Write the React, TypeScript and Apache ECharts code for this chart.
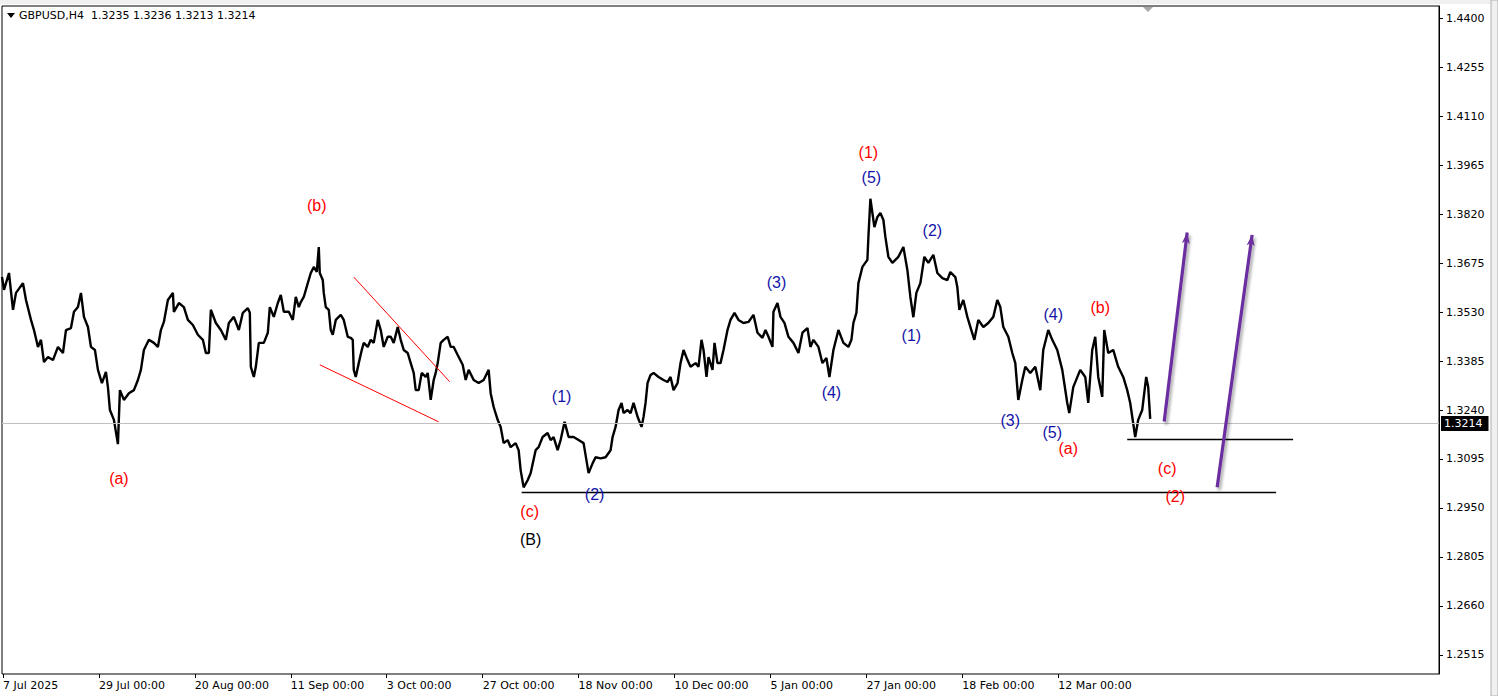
import React, { useEffect, useRef } from "react";
import * as echarts from "echarts";

// ---- price path (bar index, close) ----
const bars: number[] = [
  1, 3, 8, 12, 15, 22, 25, 30, 33, 37, 40, 43, 47, 52, 57, 62, 65, 70, 73, 77, 80, 83, 87, 90, 94, 97, 101, 105, 107, 109,
  113, 117, 119, 123, 128, 133, 137, 140, 143, 148, 153, 157, 160, 163, 167, 172, 173, 178, 183, 187, 192, 197, 202, 205, 208,
  210, 215, 220, 225, 228, 233, 238, 242, 247, 249, 250, 253, 255, 258, 263, 267, 269, 273, 277, 280, 283, 288, 292, 295,
  298, 300, 303, 307, 310, 313, 316, 318, 319, 322, 323, 325, 328, 330, 332, 335, 340, 343, 347, 350, 352, 353, 355, 358,
  361, 363, 367, 370, 373, 377, 380, 383, 387, 390, 393, 397, 400, 403, 407, 410, 413, 415, 418, 421, 425, 427, 430, 433,
  435, 437, 440, 443, 447, 450, 453, 457, 462, 465, 468, 473, 478, 483, 488, 490, 493, 497, 500, 503, 507, 510, 515, 518,
  520, 523, 527, 530, 535, 538, 542, 547, 550, 553, 557, 560, 564, 568, 573, 578, 583, 588, 592, 595, 600, 605, 610, 612,
  615, 618, 621, 623, 627, 630, 633, 637, 641, 643, 645, 647, 650, 653, 658, 663, 667, 670, 673, 677, 680, 683, 687, 690,
  695, 698, 701, 703, 706, 708, 712, 714, 717, 720, 723, 727, 730, 734, 738, 743, 748, 753, 757, 762, 765, 768, 772, 773,
  777, 780, 784, 788, 793, 798, 802, 807, 810, 813, 818, 822, 826, 829, 833, 838, 843, 848, 851, 853, 856, 858, 862, 867,
  868, 870, 874, 877, 880, 883, 885, 888, 892, 895, 898, 903, 907, 910, 913, 916, 920, 924, 928, 933, 937, 942, 947, 950,
  955, 957, 959, 963, 967, 971, 974, 978, 983, 988, 993, 997, 1000, 1003, 1008, 1012, 1015, 1018, 1022, 1025, 1030, 1035,
  1040, 1043, 1048, 1052, 1057, 1062, 1067, 1069, 1073, 1080, 1085, 1088, 1092, 1095, 1098, 1102, 1104, 1108, 1113, 1118,
  1123, 1127, 1130, 1135, 1138, 1142, 1146, 1148, 1150,
];

const closes: number[] = [
  1.3634, 1.3596, 1.3646, 1.3537, 1.3587, 1.3616, 1.3566, 1.3507, 1.3477, 1.3427, 1.3448, 1.3382, 1.3397, 1.3388, 1.3427,
  1.3409, 1.3477, 1.3483, 1.3531, 1.3545, 1.3587, 1.3516, 1.3486, 1.3427, 1.3418, 1.3359, 1.332, 1.3353, 1.3308, 1.324,
  1.3211, 1.3139, 1.3299, 1.327, 1.329, 1.3299, 1.3329, 1.3359, 1.3418, 1.3448, 1.3439, 1.3427, 1.3477, 1.3501, 1.3566,
  1.3587, 1.3531, 1.3557, 1.3545, 1.3507, 1.3492, 1.3463, 1.3448, 1.3409, 1.3409,
  1.3537, 1.3498, 1.3477, 1.3448, 1.3498, 1.3516, 1.3477, 1.3528, 1.3542, 1.3528, 1.3368, 1.3338, 1.3368, 1.3439, 1.3439,
  1.3469, 1.3545, 1.3516, 1.3557, 1.3581, 1.3531, 1.3531, 1.3507, 1.3575,
  1.3545, 1.356, 1.3575, 1.3616, 1.3646, 1.3664, 1.3649, 1.3723, 1.3646, 1.3625, 1.3587, 1.3545, 1.3537, 1.3477, 1.3463,
  1.3507, 1.3522, 1.3507, 1.3457, 1.3454, 1.3448, 1.3359, 1.3338, 1.3379,
  1.3418, 1.3439, 1.3427, 1.3448, 1.3439, 1.3507, 1.3477, 1.3427, 1.3457, 1.3457, 1.3439, 1.3486, 1.3448, 1.3418, 1.3409,
  1.3379, 1.335, 1.3299, 1.3299, 1.335, 1.3338, 1.335, 1.327, 1.3329,
  1.335, 1.3379, 1.3439, 1.3448, 1.3457, 1.3427, 1.3427, 1.3403, 1.3374, 1.3329, 1.3359, 1.3329, 1.332, 1.3329, 1.3359,
  1.329, 1.3249, 1.3211, 1.319, 1.3142, 1.3151, 1.313, 1.3142, 1.3121,
  1.3062, 1.3011, 1.3032, 1.3053, 1.3121, 1.313, 1.316, 1.3172, 1.3151, 1.316, 1.3121, 1.3151, 1.3205, 1.316, 1.316,
  1.3151, 1.3142, 1.3053, 1.3082, 1.31, 1.3097, 1.31, 1.3121, 1.316,
  1.319, 1.324, 1.3261, 1.3231, 1.324, 1.3231, 1.3261, 1.322, 1.319, 1.322, 1.3261, 1.332, 1.3344, 1.335, 1.3338, 1.3329,
  1.3323, 1.3338, 1.3299, 1.332, 1.3379, 1.3418, 1.3388, 1.3368,
  1.3379, 1.3368, 1.3448, 1.3418, 1.3338, 1.3397, 1.3359, 1.3439, 1.3379, 1.3379, 1.3418, 1.3477, 1.3507, 1.3528, 1.3507,
  1.3498, 1.3501, 1.3522, 1.3469, 1.3454, 1.3477, 1.3457, 1.3427, 1.3531,
  1.3557, 1.3516, 1.3498, 1.3457, 1.3439, 1.3409, 1.3469, 1.3483, 1.3427, 1.3448, 1.3427, 1.3379, 1.3394, 1.3338, 1.3418,
  1.3477, 1.3439, 1.3427, 1.3448, 1.3498, 1.3528, 1.3616, 1.3664, 1.3685,
  1.3753, 1.3866, 1.3782, 1.3812, 1.3824, 1.3803, 1.3753, 1.3694, 1.3676, 1.3685, 1.3694, 1.3723, 1.3655, 1.3575, 1.3515,
  1.3587, 1.3616, 1.3694, 1.3676, 1.37, 1.3646, 1.3631, 1.3625, 1.3649,
  1.3634, 1.3604, 1.3537, 1.3566, 1.3516, 1.3477, 1.3448, 1.3507, 1.3486, 1.3498, 1.3516, 1.3566, 1.3545, 1.3486, 1.3457,
  1.3409, 1.3379, 1.327, 1.3329, 1.3368, 1.335, 1.3368,
  1.3299, 1.3418, 1.3477, 1.3448, 1.3418, 1.3359, 1.3261, 1.3231, 1.3308, 1.3359, 1.3338, 1.3261, 1.3418, 1.3457, 1.3338,
  1.3279, 1.3477, 1.3409, 1.3418, 1.3368,
  1.3338, 1.3299, 1.3261, 1.316, 1.3211, 1.324, 1.3338, 1.3308, 1.3214,
];

// ---- axis ticks ----
const xTickBars: number[] = [2, 98, 194, 290, 386, 482, 578, 674, 770, 866, 962, 1058];
const xTickLabels: string[] = [
  "7 Jul 2025", "29 Jul 00:00", "20 Aug 00:00", "11 Sep 00:00", "3 Oct 00:00", "27 Oct 00:00",
  "18 Nov 00:00", "10 Dec 00:00", "5 Jan 00:00", "27 Jan 00:00", "18 Feb 00:00", "12 Mar 00:00",
];
const yTicks: number[] = [
  1.2515, 1.266, 1.2805, 1.295, 1.3095, 1.324, 1.3385, 1.353, 1.3675, 1.382, 1.3965, 1.411, 1.4255, 1.44,
];
const lastPrice = 1.3214;
const headerText = "GBPUSD,H4  1.3235 1.3236 1.3213 1.3214";

// ---- Elliott wave labels ----
const waveText: string[] = ["(b)", "(a)", "(c)", "(B)", "(1)", "(2)", "(3)", "(4)", "(1)", "(5)", "(2)", "(1)", "(3)", "(4)", "(b)", "(5)", "(a)", "(c)", "(2)"];
const waveBar: number[] = [316, 118, 529, 530, 561, 594, 776, 831, 868, 871, 932, 911, 1010, 1053, 1100, 1052, 1068, 1167, 1175];
const wavePrice: number[] = [1.3845, 1.3036, 1.2938, 1.2855, 1.3279, 1.2991, 1.3617, 1.3291, 1.4002, 1.3928, 1.3771, 1.3462, 1.3208, 1.3522, 1.3545, 1.3172, 1.3125, 1.3068, 1.2985];
const waveKind: string[] = ["r", "r", "r", "k", "b", "b", "b", "b", "r", "b", "b", "b", "b", "b", "r", "b", "r", "r", "r"];

// ---- drawn objects ----
const supportLong = { from: 521, to: 1276, price: 1.2997 };
const supportShort = { from: 1127, to: 1293, price: 1.3153 };
const wedgeUpper = [[353, 1.3634], [449, 1.3324]];
const wedgeLower = [[319, 1.3374], [438, 1.3205]];
const arrowA = [[1164, 1.3206], [1187, 1.3766]];
const arrowB = [[1217, 1.3011], [1252, 1.3759]];

const FONT = "DejaVu Sans";
const colorOf: Record<string, string> = { r: "#ff0000", b: "#1414a8", k: "#000000" };

export default function App() {
  const ref = useRef<HTMLDivElement>(null);

  useEffect(() => {
    document.body.style.margin = "0";
    const chart = echarts.init(ref.current!, null, { renderer: "svg" });

    const lineData = bars.map((b, i) => [b, closes[i]]);
    const waveData = waveText.map((t, i) => ({
      value: [waveBar[i], wavePrice[i]],
      name: t,
      label: { color: colorOf[waveKind[i]] },
    }));

    const shadow = { shadowColor: "rgba(0,0,0,0.35)", shadowBlur: 3, shadowOffsetX: 2, shadowOffsetY: 3 };
    const seg = (a: number[][], color: string, width: number, extra: any = {}) => [
      { coord: a[0], lineStyle: { color, width, type: "solid", ...extra } },
      { coord: a[1] },
    ];
    const hline = (s: { from: number; to: number; price: number }) => [
      { coord: [s.from, s.price], lineStyle: { color: "#000", width: 1.3, type: "solid" } },
      { coord: [s.to, s.price] },
    ];

    chart.setOption({
      animation: false,
      backgroundColor: "#ffffff",
      grid: {
        left: 1,
        right: 59,
        top: 6,
        bottom: 22,
        show: true,
        borderColor: "#000",
        borderWidth: 1,
        backgroundColor: "#fff",
      },
      xAxis: {
        type: "value",
        min: 1,
        max: 1439,
        splitLine: { show: false },
        axisLine: { show: false },
        axisTick: {
          show: true,
          customValues: xTickBars,
          length: 4,
          lineStyle: { color: "#000" },
        },
        axisLabel: {
          customValues: xTickBars,
          formatter: (v: number) => xTickLabels[xTickBars.indexOf(Math.round(v))] ?? "",
          align: "left",
          margin: 6,
          fontSize: 11,
          fontFamily: FONT,
          color: "#000",
        },
      },
      yAxis: {
        type: "value",
        position: "right",
        min: 1.2458,
        max: 1.4437,
        scale: true,
        splitLine: { show: false },
        axisLine: { show: true, lineStyle: { color: "#000" } },
        axisTick: {
          show: true,
          customValues: yTicks,
          length: 4,
          lineStyle: { color: "#000" },
        },
        axisLabel: {
          customValues: yTicks,
          formatter: (v: number) => v.toFixed(4),
          margin: 7,
          fontSize: 11,
          fontFamily: FONT,
          color: "#000",
        },
      },
      series: [
        {
          type: "line",
          name: "GBPUSD",
          data: lineData,
          showSymbol: false,
          symbol: "none",
          lineStyle: { color: "#000", width: 2.4 },
          z: 3,
          markLine: {
            silent: true,
            symbol: ["none", "none"],
            label: { show: false },
            data: [
              hline(supportLong),
              hline(supportShort),
              seg(wedgeUpper, "#ff0000", 1),
              seg(wedgeLower, "#ff0000", 1),
            ],
          },
        },
        {
          type: "line",
          name: "price line",
          data: [],
          z: 1,
          markLine: {
            silent: true,
            symbol: ["none", "none"],
            data: [
              {
                yAxis: lastPrice,
                lineStyle: { color: "#c0c0c0", width: 1, type: "solid" },
                label: {
                  show: true,
                  position: "end",
                  distance: 2,
                  formatter: lastPrice.toFixed(4),
                  backgroundColor: "#000",
                  color: "#fff",
                  fontSize: 11,
                  fontFamily: FONT,
                  padding: [2, 6, 2, 3],
                },
              },
            ],
          },
        },
        {
          type: "line",
          name: "arrows",
          data: [],
          z: 4,
          markLine: {
            silent: true,
            symbol: ["none", "arrow"],
            symbolSize: [6, 11],
            label: { show: false },
            data: [
              seg(arrowA, "#6b2fa0", 3.2, shadow),
              seg(arrowB, "#6b2fa0", 3.2, shadow),
            ],
          },
        },
        {
          type: "scatter",
          name: "waves",
          symbolSize: 0,
          itemStyle: { color: "transparent", opacity: 1 },
          data: waveData,
          z: 5,
          label: {
            show: true,
            position: "inside",
            formatter: (p: any) => p.name,
            fontSize: 16,
            fontFamily: "Liberation Sans",
            opacity: 1,
            textBorderWidth: 0,
            textBorderColor: "transparent",
          },
        },
      ],
      graphic: [
        { type: "rect", shape: { x: 0, y: 0, width: 1498, height: 4 }, style: { fill: "#f0f0f0" }, silent: true },
        { type: "rect", shape: { x: 1491, y: 0, width: 7, height: 696 }, style: { fill: "#f0f0f0", stroke: "#b0b0b0" }, silent: true },
        {
          type: "polygon",
          shape: { points: [[7, 13], [15, 13], [11, 18]] },
          style: { fill: "#000" },
          silent: true,
        },
        {
          type: "polygon",
          shape: { points: [[1143, 7], [1153, 7], [1148, 12]] },
          style: { fill: "#a8a8a8" },
          silent: true,
        },
        {
          type: "text",
          left: 19,
          top: 10,
          style: { text: headerText, fill: "#000", font: `11px "${FONT}"` },
          silent: true,
        },
      ],
    });

    return () => chart.dispose();
  }, []);

  return <div ref={ref} style={{ width: 1498, height: 696 }} />;
}
